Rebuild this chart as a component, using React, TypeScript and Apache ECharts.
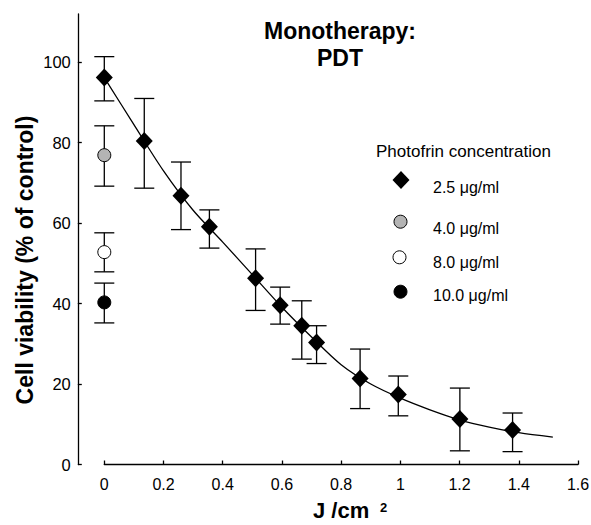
import React, { useEffect, useRef } from 'react';
import * as echarts from 'echarts';

// ---- Data ----
const doses25 = [0, 0.135, 0.259, 0.355, 0.511, 0.594, 0.667, 0.717, 0.864, 0.993, 1.201, 1.379];
const viability25 = [96.2, 80.4, 66.8, 59.1, 46.3, 39.6, 34.5, 30.3, 21.4, 17.4, 11.3, 8.6];
const low25 = [90.4, 68.7, 58.4, 53.8, 38.3, 34.9, 26.2, 25.1, 13.9, 12.1, 3.4, 3.2];
const high25 = [101.4, 91.0, 75.2, 63.3, 53.6, 44.1, 40.7, 34.5, 28.7, 22.0, 19.0, 12.8];

const dose0 = [0];
const viability40 = [76.9];
const low40 = [69.2];
const high40 = [84.2];
const viability80 = [52.8];
const low80 = [47.9];
const high80 = [57.6];
const viability100 = [40.3];
const low100 = [35.2];
const high100 = [45.1];

const curveX = [0, 0.1, 0.2, 0.3, 0.4, 0.5, 0.6, 0.7, 0.8, 0.9, 1.0, 1.1, 1.2, 1.3, 1.4, 1.515];
const curveY = [96.2, 84.5, 73.0, 63.2, 55.3, 47.2, 39.1, 31.7, 24.8, 20.0, 16.5, 13.6, 11.1, 9.3, 7.9, 6.8];

const yTicks = [0, 20, 40, 60, 80, 100];
const legendTitle = 'Photofrin concentration';
const legendLabels = ['2.5 μg/ml', '4.0 μg/ml', '8.0 μg/ml', '10.0 μg/ml'];
const chartTitle = 'Monotherapy:\nPDT';
const yName = 'Cell viability (% of control)';
const xName = 'J /cm';
const xNameSup = '2';

const FONT = '"Liberation Sans", Arial, Helvetica, sans-serif';

function errRender(params: any, api: any) {
  const x = api.value(0);
  const lo = api.value(1);
  const hi = api.value(2);
  const pLo = api.coord([x, lo]);
  const pHi = api.coord([x, hi]);
  const hw = 10;
  const style = { stroke: '#000', lineWidth: 1.3, fill: 'none' };
  return {
    type: 'group',
    children: [
      { type: 'line', shape: { x1: pLo[0], y1: pLo[1], x2: pHi[0], y2: pHi[1] }, style },
      { type: 'line', shape: { x1: pHi[0] - hw, y1: pHi[1], x2: pHi[0] + hw, y2: pHi[1] }, style },
      { type: 'line', shape: { x1: pLo[0] - hw, y1: pLo[1], x2: pLo[0] + hw, y2: pLo[1] }, style },
    ],
  };
}

function errSeries(xs: number[], lo: number[], hi: number[]) {
  return {
    type: 'custom',
    renderItem: errRender,
    data: xs.map((x, i) => [x, lo[i], hi[i]]),
    encode: { x: 0, y: [1, 2] },
    z: 3,
    silent: true,
  };
}

function pointSeries(name: string, xs: number[], ys: number[], symbol: string, size: any, color: string, border: boolean) {
  return {
    name,
    type: 'scatter',
    symbol,
    symbolSize: size,
    data: xs.map((x, i) => [x, ys[i]]),
    itemStyle: { color, borderColor: '#000', borderWidth: border ? 1 : 0, opacity: 1 },
    z: 5,
  };
}

export default function App() {
  const ref = useRef<HTMLDivElement>(null);
  useEffect(() => {
    const chart = echarts.init(ref.current as HTMLDivElement, null, { renderer: 'svg' });
    const legendYs = [180, 221.7, 257.3, 291.7];
    const legendTextYs = [187.5, 228, 262.7, 295];
    const option: any = {
      animation: false,
      backgroundColor: '#fff',
      textStyle: { fontFamily: FONT },
      title: {
        text: chartTitle,
        left: 335,
        top: 12,
        textAlign: 'center',
        textStyle: { fontSize: 23, fontWeight: 'bold', lineHeight: 27, color: '#000', fontFamily: FONT },
      },
      grid: { left: 104.3, right: 13, top: 14, bottom: 60.5, containLabel: false, outerBoundsMode: 'none' },
      xAxis: {
        type: 'value',
        min: 0,
        max: 1.6,
        interval: 0.2,
        axisLine: { show: true, onZero: false, lineStyle: { color: '#000', width: 1.3 } },
        axisTick: { show: true, inside: true, length: 4, lineStyle: { color: '#000', width: 1.3 } },
        axisLabel: { fontSize: 16, color: '#000', margin: 12, fontFamily: FONT },
        splitLine: { show: false },
      },
      yAxis: {
        type: 'value',
        min: 0,
        max: 112,
        offset: 26.5,
        axisLine: { show: true, onZero: false, lineStyle: { color: '#000', width: 1.3 } },
        axisTick: { show: true, inside: true, length: 4, customValues: yTicks, lineStyle: { color: '#000', width: 1.3 } },
        axisLabel: { customValues: yTicks, fontSize: 16.5, color: '#000', margin: 7, fontFamily: FONT },
        splitLine: { show: false },
      },
      graphic: [
        {
          type: 'text',
          x: 25,
          y: 260,
          rotation: Math.PI / 2,
          style: { text: yName, fontSize: 23, fontWeight: 'bold', fill: '#000', align: 'center', verticalAlign: 'middle', fontFamily: FONT },
        },
        {
          type: 'text',
          x: 313,
          y: 510.5,
          style: { text: xName, fontSize: 22, fontWeight: 'bold', fill: '#000', align: 'left', verticalAlign: 'middle', fontFamily: FONT },
        },
        {
          type: 'text',
          x: 380,
          y: 507.5,
          style: { text: xNameSup, fontSize: 13, fontWeight: 'bold', fill: '#000', align: 'left', verticalAlign: 'middle', fontFamily: FONT },
        },
        {
          type: 'text',
          x: 376,
          y: 151,
          style: { text: legendTitle, fontSize: 17, fill: '#000', align: 'left', verticalAlign: 'middle', fontFamily: FONT },
        },
        {
          type: 'polygon',
          shape: { points: [[392.5, legendYs[0]], [401, legendYs[0] - 9], [409.5, legendYs[0]], [401, legendYs[0] + 9]] },
          style: { fill: '#000' },
        },
        { type: 'circle', shape: { cx: 400.5, cy: legendYs[1], r: 6.5 }, style: { fill: '#b4b4b4', stroke: '#000', lineWidth: 1 } },
        { type: 'circle', shape: { cx: 399.5, cy: legendYs[2], r: 6.5 }, style: { fill: '#fff', stroke: '#000', lineWidth: 1 } },
        { type: 'circle', shape: { cx: 400.5, cy: legendYs[3], r: 6.5 }, style: { fill: '#000', stroke: '#000', lineWidth: 1 } },
        ...legendLabels.map((t, i) => ({
          type: 'text',
          x: 433,
          y: legendTextYs[i],
          style: { text: t, fontSize: 16, fill: '#000', align: 'left', verticalAlign: 'middle', fontFamily: FONT },
        })),
      ],
      series: [
        {
          name: 'fit',
          type: 'line',
          data: curveX.map((x, i) => [x, curveY[i]]),
          smooth: 0.3,
          symbol: 'none',
          showSymbol: false,
          lineStyle: { color: '#000', width: 1.3 },
          z: 2,
          silent: true,
        },
        errSeries(doses25, low25, high25),
        errSeries(dose0, low40, high40),
        errSeries(dose0, low80, high80),
        errSeries(dose0, low100, high100),
        pointSeries(legendLabels[0], doses25, viability25, 'diamond', [17, 18], '#000', false),
        pointSeries(legendLabels[1], dose0, viability40, 'circle', 13, '#b4b4b4', true),
        pointSeries(legendLabels[2], dose0, viability80, 'circle', 13, '#fff', true),
        pointSeries(legendLabels[3], dose0, viability100, 'circle', 13, '#000', true),
      ],
    };
    chart.setOption(option);
    return () => chart.dispose();
  }, []);
  return (
    <div
      ref={ref}
      style={{ position: 'absolute', left: 0, top: 0, width: 591, height: 525, background: '#fff' }}
    />
  );
}
